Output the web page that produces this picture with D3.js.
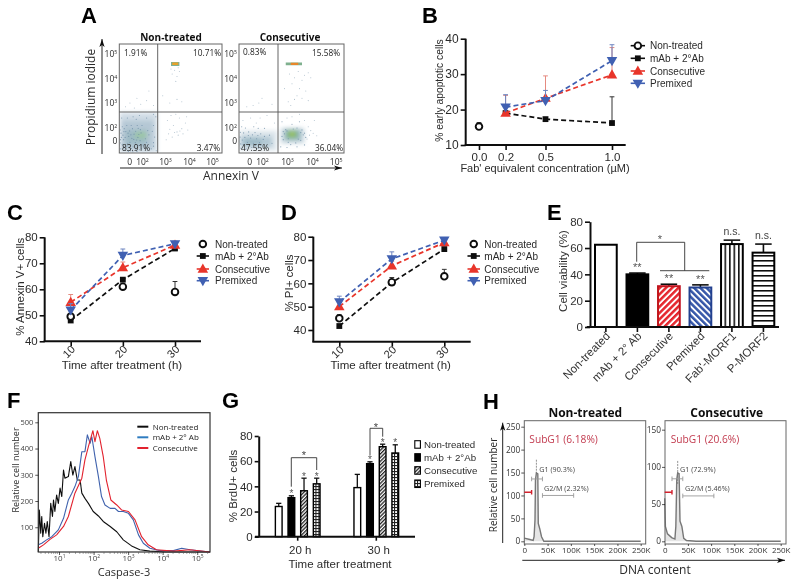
<!DOCTYPE html>
<html><head><meta charset="utf-8">
<script src="https://cdn.jsdelivr.net/npm/d3@7/dist/d3.min.js"></script>
<style>html,body{margin:0;padding:0;background:#fff}svg{display:block}</style>
</head><body><script>
// ---------- DATA ----------
const legendNames = ["Non-treated","mAb + 2°Ab","Consecutive","Premixed"];
// A flow cytometry: values in display decades (0, 2=10², 3=10³ ...)
const aTicks=[0,2,3,4,5];
const aPercentL=["1.91%","10.71%","83.91%","3.47%"];
const aPercentR=["0.83%","15.58%","47.55%","36.04%"];
// density patches [x0,x1,y0,y1,colour,opacity]
const aCloudL=[[-1.5,2.66,-1.8,2.62,"#c4d3de",.8],[-1.2,2.5,-1.2,2.3,"#a9c0cf",.7],[-.6,2.2,-.5,1.7,"#8fb2bb",.6],[.9,2.2,.4,1.4,"#9cc9a0",.8],[3.25,3.6,4.52,4.68,"#6fa98c",.9],[3.3,3.55,4.56,4.66,"#e7a12c",1]];
const aCloudR=[[-1.5,2.6,-1.5,1.6,"#d5e0e7",.8],[-1.5,2.4,-.9,.7,"#a6bfce",.75],[-.8,1.9,-.6,.4,"#8db0bd",.6],[2.75,3.7,-.4,2.0,"#c3d3dd",.8],[2.9,3.55,.1,1.8,"#8fb4b8",.85],[3.0,3.4,.5,1.55,"#78b574",1],[3.12,3.3,.85,1.3,"#b9cf4f",1],[2.95,3.6,4.55,4.66,"#7fb08e",1],[3.15,3.45,4.56,4.65,"#e8862c",1]];
// sparse dots [x,y]
const aDotsL=[[3.1,2.3],[3.2,1.8],[3.35,2.1],[3.5,1.4],[3.6,2.4],[3.15,1.1],[3.4,1.3],[3.7,1.9],[3.85,2.2],[3.95,1.7],[3.3,.6],[3.55,.9],[3.05,.2],[3.75,1.1],[3.25,2.5],[3.45,2.55],[3.9,2.45],[3.62,1.55],[.1,3.0],[1.2,3.2],[2.2,3.1],[2.5,2.9],[-.6,2.85],[.8,2.8],[1.8,2.95],[3.2,3.0],[3.5,3.15],[3.7,3.05],[2.9,3.3],[2.3,3.5],[3.3,4.2],[3.5,4.1],[3.4,4.35],[3.6,4.3],[3.25,4.4],[3.55,4.45],[3.45,3.9]];
const aDotsR=[[3.1,4.2],[3.3,4.05],[3.45,4.3],[3.6,3.95],[3.7,4.15],[3.85,4.25],[3.2,3.8],[3.5,3.6],[3.4,3.3],[3.6,3.2],[3.75,3.5],[3.05,3.05],[3.95,4.05],[3.3,3.15],[1.5,3.0],[2.0,3.2],[2.4,2.95],[.6,2.9],[-.4,2.85],[.2,2.4],[1.1,2.2],[1.7,2.4],[2.2,2.5],[2.5,2.2],[-1,2.3],[3.0,2.4],[3.2,2.45],[3.5,2.55],[3.7,2.3],[3.85,2.05],[3.95,1.6],[4.05,1.2],[3.9,.9],[3.8,.3],[4.2,.8],[4.1,2.3],[2.9,3.6],[3.15,2.9],[3.85,3.1]];
// speckle inside the dense clouds [x,y]
const aSpeckL=[[-1.2,2.4],[-.8,1.9],[-.3,2.4],[.3,2.1],[1.1,2.35],[1.6,2.5],[2.2,2.4],[2.5,2.1],[-1.3,1.2],[-1.4,.2],[-1.1,-.5],[-.7,-1.4],[.2,-1.5],[1.2,-1.6],[1.9,-1.2],[2.5,-.8],[2.55,.6],[2.45,1.5],[-1.0,.9],[-.4,-.9],[.6,-.9],[1.5,-.7],[2.2,-.2],[.5,1.9],[1.4,1.95],[-.2,1.2],[.4,.4],[1.0,1.5],[2.0,2.1],[-.9,.2],[-1.45,1.7],[2.6,2.45],[2.62,-1.5],[-1.1,2.05],[-.55,1.45],[-.1,.7],[.75,1.05],[1.35,.55],[1.85,1.25],[2.3,.95],[2.05,-.6],[.95,-.25],[-.25,-.35],[-.95,-1.05],[.35,-1.15],[1.05,-1.25],[1.7,.05],[2.4,-1.2],[-1.35,-1.2],[-1.25,.55],[-.65,.55],[.05,1.55],[.6,2.45],[1.25,2.1],[1.75,1.75],[2.25,1.6],[2.5,2.55],[-.4,2.1],[.1,-.2],[.7,.25],[1.5,1.0],[2.15,.35],[2.5,-.25],[-1.45,-.3],[-.85,1.45],[.25,.95],[1.15,.15],[1.6,-1.35],[.55,-1.65],[-.15,-1.6]];
const aSpeckR=[[-1.4,1.35],[-.9,1.25],[-.1,1.4],[.9,1.3],[1.8,1.1],[2.3,.9],[-1.3,-1.1],[-.5,-1.2],[.4,-1],[1.4,-1.1],[2.2,-.8],[-.6,2.0],[.7,2.05],[1.4,1.95],[2.1,1.95],[-1.2,2.05],[-1.45,.6],[-1.1,.15],[-.7,.55],[-.3,-.2],[.2,.45],[.65,-.35],[1.15,.35],[1.6,-.25],[2.05,.25],[2.4,-.35],[-.95,-.55],[-.15,.85],[.5,.95],[1.35,.85],[2.1,.7],[-1.35,-.45],[.95,-.7],[1.8,-.65],[2.75,-.9],[3.0,-1],[3.4,-.9],[3.7,-.6],[2.8,2.25],[2.85,.2],[2.9,1.1],[2.95,1.75],[3.05,-.2],[3.2,2.15],[3.4,2.0],[3.6,1.7],[3.7,1.2],[3.75,.55],[3.55,.1],[3.35,-.3],[3.15,-.55],[2.8,.7],[3.5,2.25],[3.65,.95],[3.05,.35],[3.45,.3],[3.55,1.3],[3.25,1.85],[3.0,1.55],[2.85,1.45]];
// B
const bConc=[0,.2,.5,1];
const bNon=[15.2,null,null,null], bNonTop=[16.3,null,null,null];
const bMab=[null,19,17.3,16.2], bMabTop=[null,null,null,23.6];
const bCon=[null,19,23.2,29.8], bConTop=[null,24,29.5,37.5];
const bPre=[null,20.7,22.5,33.8], bPreTop=[null,24.2,25.4,38.3];
// C
const tHours=[10,20,30];
const cNon=[49.5,61,59], cNonTop=[null,null,63];
const cMab=[48,63.7,75.7], cMabTop=[null,null,null];
const cCon=[55,68.3,77], cConTop=[58,70.5,78];
const cPre=[52,73,77.5], cPreTop=[54.5,75.5,78.5];
// D
const dNon=[45,60.5,63], dNonTop=[46.5,null,66];
const dMab=[41.7,60.3,74.7], dMabTop=[null,62.5,null];
const dCon=[50,67.5,77.5], dConTop=[52,69.5,79];
const dPre=[52,70.5,78.5], dPreTop=[54.5,73.5,79.5];
// E
const eCats=["Non-treated","mAb + 2° Ab","Consecutive","Premixed","Fab'-MORF1","P-MORF2"];
const eVals=[62.5,40,31,30,63,56.5];
const eTops=[null,41,32.5,32,66,63];
const eNotes=["","**","**","**","n.s.","n.s."];
// F (x = log10 intensity, y = count)
const fNames=["Non-treated","mAb + 2° Ab","Consecutive"];
const fBlackX=[.40,.43,.47,.50,.53,.58,.62,.66,.71,.76,.81,.84,.88,.93,.98,1.03,1.08,1.13,1.17,1.27,1.34,1.40,1.46,1.53,1.61,1.66,1.75,1.85,1.99,2.14,2.28,2.48,2.67,2.86,3.10,3.34,3.63,4.11,5.37];
const fBlackY=[6,166,77,141,64,115,77,122,64,191,141,204,160,223,191,249,217,318,287,293,350,299,331,280,280,230,210,191,160,143,122,103,83,52,29,14,9,6,6];
const fBlueX=[.40,.50,.64,.79,.98,1.13,1.27,1.37,1.46,1.56,1.66,1.75,1.82,1.90,1.95,2.04,2.14,2.23,2.33,2.48,2.62,2.72,2.86,3.01,3.15,3.30,3.44,3.63,3.92,4.31,4.55,4.79,5.37];
const fBlueY=[33,39,52,64,90,134,204,230,255,293,388,388,452,420,445,369,293,217,185,172,172,160,160,153,128,71,39,20,11,11,20,14,6];
const fRedX=[.40,.55,.74,.93,1.13,1.27,1.46,1.66,1.75,1.85,1.98,2.04,2.11,2.18,2.28,2.37,2.50,2.67,2.81,3.01,3.20,3.39,3.58,3.82,4.31,4.79,5.37];
const fRedY=[20,33,54,71,103,141,230,287,357,407,468,426,468,439,369,280,204,185,166,160,128,64,33,14,9,14,6];
const fTicksX=[1,2,3,4,5], fTicksY=[100,200,300,400,500];
// G
const gGroups=["20 h","30 h"];
const gVals20=[24,31,36.5,42], gTops20=[26.5,32.5,46.5,46.5];
const gVals30=[39,58,71.5,66.5], gTops30=[49.5,59.5,73.5,73];
// H
const hTicksX=[0,50,100,150,200,250];
const hLeftX=[0,12,19,21,23,24,26,29,30,33,37,42,250], hLeftY=[7,4,2,10,47,134,149,147,39,28,10,0,0];
const hRightX=[0,1.5,6,15,22,24,26,28,31,33,37,41,47,68,250], hRightY=[58,20,10,5,3,20,83,92,91,27,20,4,1,0,0];
const hLeftSpike=[26,178], hRightSpike=[28,108];

// ---------- SETUP ----------
const W=800,H=586;
const GP="'Liberation Sans',Arial,sans-serif", MY="'Open Sans',sans-serif";
const BLACK="#111", RED="#e8352b", BLUE="#3f60b2", INK="#2b2b2b";
const svg=d3.select("body").append("svg").attr("width",W).attr("height",H).attr("viewBox",`0 0 ${W} ${H}`);
const defs=svg.append("defs");
const flt=defs.append("filter").attr("id","soft").attr("filterUnits","userSpaceOnUse").attr("x",0).attr("y",0).attr("width",W).attr("height",H);
flt.append("feGaussianBlur").attr("stdDeviation",.35);
const blur=defs.append("filter").attr("id","cloud").attr("x","-30%").attr("y","-30%").attr("width","160%").attr("height","160%");
blur.append("feGaussianBlur").attr("stdDeviation",2.2);
const blur2=defs.append("filter").attr("id","spot").attr("x","-60%").attr("y","-200%").attr("width","220%").attr("height","500%");
blur2.append("feGaussianBlur").attr("stdDeviation",.7);
const root=svg.append("g").attr("filter","url(#soft)");

function hatch(id,size,rot,bg,draw){
  const p=defs.append("pattern").attr("id",id).attr("patternUnits","userSpaceOnUse").attr("width",size).attr("height",size).attr("patternTransform",`rotate(${rot})`);
  p.append("rect").attr("width",size).attr("height",size).attr("fill",bg);
  draw(p);
}
hatch("eRed",4.4,45,"#fff",p=>p.append("rect").attr("width",2.5).attr("height",4.4).attr("fill","#e5262d"));
hatch("eBlue",4.4,-45,"#fff",p=>p.append("rect").attr("width",2.5).attr("height",4.4).attr("fill","#3557a8"));
hatch("eVert",4.5,0,"#fff",p=>p.append("rect").attr("width",1.6).attr("height",4.5).attr("fill","#111"));
hatch("eHorz",5,0,"#fff",p=>p.append("rect").attr("width",5).attr("height",1.6).attr("fill","#111"));
hatch("gDiag",2.6,45,"#fff",p=>p.append("rect").attr("width",1.3).attr("height",2.6).attr("fill","#222"));
hatch("gGrid",3,0,"#fff",p=>{p.append("rect").attr("width",3).attr("height",1.1).attr("fill","#222");p.append("rect").attr("width",1.1).attr("height",3).attr("fill","#222");});

function txt(g,x,y,s,o={}){
  const t=g.append("text").attr("x",x).attr("y",y).text(s)
    .attr("font-family",o.font||GP).attr("font-size",o.size||11).attr("fill",o.fill||INK)
    .attr("text-anchor",o.anchor||"start");
  if(o.bold)t.attr("font-weight","bold");
  if(o.rot!=null)t.attr("transform",`rotate(${o.rot},${x},${y})`);
  return t;
}
function arrow(g,x1,y1,x2,y2){
  g.append("line").attr("x1",x1).attr("y1",y1).attr("x2",x2).attr("y2",y2).attr("stroke","#222").attr("stroke-width",1);
  const a=Math.atan2(y2-y1,x2-x1)*180/Math.PI;
  g.append("path").attr("d","M0,0L-8,-2.6L-6,0L-8,2.6Z").attr("fill","#111").attr("transform",`translate(${x2},${y2}) rotate(${a})`);
}
function styleAxis(a,sw,tsw,size,font,fill){
  a.select(".domain").attr("stroke",BLACK).attr("stroke-width",sw);
  a.selectAll(".tick line").attr("stroke",BLACK).attr("stroke-width",tsw);
  a.selectAll(".tick text").attr("font-size",size).attr("font-family",font||GP).attr("fill",fill||INK);
}
function powLabel(sel,size){
  sel.selectAll(".tick text").each(function(d){
    const t=d3.select(this).text("");
    if(d===0){t.text("0");return;}
    t.append("tspan").text("10");
    t.append("tspan").text(d).attr("font-size",size*.62).attr("dy",-size*.38);
  });
}
[["A",81,23],["B",422,23],["C",7,220],["D",281,220],["E",547,220],["F",7,408],["G",222,408],["H",483,409]]
  .forEach(d=>txt(root,d[1],d[2],d[0],{size:22,bold:true,fill:"#000"}));

// ---------- PANEL A ----------
function flow(name,left,right,xr,perc,clouds,dots,speck,titleX,pPos,vx){
  const g=root.append("g");
  const x=d3.scaleLinear().domain(aTicks).range(xr);
  const y=d3.scaleLinear().domain(aTicks).range([141,128,103,79,54]);
  const cid="clip"+name.replace(/\W/g,"");
  defs.append("clipPath").attr("id",cid).append("rect").attr("x",left).attr("y",44).attr("width",right-left).attr("height",109);
  const plot=g.append("g").attr("clip-path",`url(#${cid})`);
  const patch=(sel,rows)=>sel.selectAll("rect").data(rows).join("rect")
    .attr("x",d=>x(d[0])).attr("width",d=>x(d[1])-x(d[0])).attr("y",d=>y(d[3])).attr("height",d=>y(d[2])-y(d[3]))
    .attr("fill",d=>d[4]).attr("opacity",d=>d[5]);
  patch(plot.append("g").attr("filter","url(#cloud)"),clouds.filter(d=>d[2]<4));
  patch(plot.append("g").attr("filter","url(#spot)"),clouds.filter(d=>d[2]>=4));
  plot.selectAll("circle.d").data(dots).join("circle").attr("class","d").attr("cx",d=>x(d[0])).attr("cy",d=>y(d[1])).attr("r",.55).attr("fill","#b4c4d0");
  plot.selectAll("circle.s").data(speck).join("circle").attr("class","s").attr("cx",d=>x(d[0])).attr("cy",d=>y(d[1])).attr("r",.6).attr("fill","#6f8fa8").attr("opacity",.8);
  g.append("rect").attr("x",left).attr("y",44).attr("width",right-left).attr("height",109).attr("fill","none").attr("stroke","#666").attr("stroke-width",1);
  g.append("line").attr("x1",vx).attr("x2",vx).attr("y1",44).attr("y2",153).attr("stroke","#555").attr("stroke-width",.9);
  g.append("line").attr("x1",left).attr("x2",right).attr("y1",112).attr("y2",112).attr("stroke","#555").attr("stroke-width",.9);
  const ax=g.append("g").attr("transform","translate(0,153)").call(d3.axisBottom(x).tickValues(aTicks).tickSize(0).tickPadding(6));
  ax.select(".domain").remove(); ax.selectAll(".tick line").remove();
  ax.selectAll(".tick text").attr("font-size",8.5).attr("font-family",MY).attr("fill",INK); powLabel(ax,8.5);
  const ay=g.append("g").attr("transform",`translate(${left},0)`).call(d3.axisLeft(y).tickValues(aTicks).tickSize(0).tickPadding(2));
  ay.select(".domain").remove(); ay.selectAll(".tick line").remove();
  ay.selectAll(".tick text").attr("font-size",8.5).attr("font-family",MY).attr("fill",INK); powLabel(ay,8.5);
  txt(g,titleX,41,name,{font:MY,size:10,bold:true,fill:"#111",anchor:"middle"});
  perc.forEach((p,i)=>txt(g,pPos[i][0],pPos[i][1],p,{font:MY,size:8.3,anchor:pPos[i][2],fill:"#222"}));
}
flow("Non-treated",119.3,222,[129.3,142,165,189,212],aPercentL,aCloudL,aDotsL,aSpeckL,171,[[124,56,"start"],[221,56,"end"],[122,151,"start"],[220,151,"end"]],157.7);
flow("Consecutive",239,344,[249.3,262,287,312,335.7],aPercentR,aCloudR,aDotsR,aSpeckR,290,[[243,55,"start"],[340,56,"end"],[241,151,"start"],[343,151,"end"]],278);
arrow(root,102,154,102,39); arrow(root,120,168,342,168);
txt(root,95,97,"Propidium iodide",{font:MY,size:12,anchor:"middle",rot:-90});
txt(root,231,180,"Annexin V",{font:MY,size:12,anchor:"middle"});

// ---------- LINE PANELS ----------
const sTri=d3.symbol(d3.symbolTriangle).size(48)(), sSq=d3.symbol(d3.symbolSquare).size(34)();
function marker(g,kind,cx,cy){
  if(kind==="non") g.append("circle").attr("cx",cx).attr("cy",cy).attr("r",3.3).attr("fill","#fff").attr("stroke",BLACK).attr("stroke-width",1.9);
  if(kind==="mab") g.append("path").attr("d",sSq).attr("fill",BLACK).attr("transform",`translate(${cx},${cy})`);
  if(kind==="con") g.append("path").attr("d",sTri).attr("fill",RED).attr("transform",`translate(${cx},${cy+.6})`);
  if(kind==="pre") g.append("path").attr("d",sTri).attr("fill",BLUE).attr("transform",`translate(${cx},${cy-.6}) rotate(180)`);
}
const kinds=[{k:"non",c:BLACK,tc:"#333"},{k:"mab",c:BLACK,tc:"#333"},{k:"con",c:RED,tc:"#e58a80"},{k:"pre",c:BLUE,tc:"#6c84c0"}];
function drawSeries(g,x,y,xs,table){
  [1,0,2,3].forEach(i=>{
    const [vals,tops]=table[i], K=kinds[i];
    const pts=xs.map((v,j)=>({x:v,y:vals[j],t:tops[j]}));
    if(i>0){
      const ln=d3.line().defined(d=>d.y!=null).x(d=>x(d.x)).y(d=>y(d.y));
      g.append("path").attr("d",ln(pts)).attr("fill","none").attr("stroke",K.c).attr("stroke-width",1.7).attr("stroke-dasharray","5 3");
    }
    pts.filter(d=>d.y!=null&&d.t!=null).forEach(d=>{
      g.append("line").attr("x1",x(d.x)).attr("x2",x(d.x)).attr("y1",y(d.y)).attr("y2",y(d.t)).attr("stroke",K.tc).attr("stroke-width",1);
      g.append("line").attr("x1",x(d.x)-2.4).attr("x2",x(d.x)+2.4).attr("y1",y(d.t)).attr("y2",y(d.t)).attr("stroke",K.tc).attr("stroke-width",1);
    });
    pts.filter(d=>d.y!=null).forEach(d=>marker(g,K.k,x(d.x),y(d.y)));
  });
}
function legend(g,x0,x1,tx,rows,size,noLine){
  legendNames.forEach((n,i)=>{
    const K=kinds[i], cy=rows[i], mid=(x0+x1)/2;
    if(!(noLine&&i===0)) g.append("line").attr("x1",x0).attr("x2",x1).attr("y1",cy).attr("y2",cy).attr("stroke",K.c).attr("stroke-width",1.6);
    marker(g,K.k,mid,cy);
    txt(g,tx,cy+3.7,n,{size});
  });
}
function linePanel(o){
  const g=root.append("g");
  const y=d3.scaleLinear().domain(o.yd).range(o.yr);
  const x=d3.scaleLinear().domain(o.xd).range(o.xr);
  const ay=g.append("g").attr("transform",`translate(${o.axL},0)`).call(d3.axisLeft(y).tickValues(o.yt).tickSize(5).tickPadding(2).tickSizeOuter(0));
  styleAxis(ay,2,1.6,o.ytSize||12);
  const xa=d3.axisBottom(d3.scaleLinear().domain([o.axL,o.axR]).range([o.axL,o.axR])).tickSizeOuter(0).tickSize(5)
    .tickValues(o.xt.map(x)).tickFormat((d,i)=>o.xl(o.xt[i]));
  const ax=g.append("g").attr("transform",`translate(0,${o.axB})`).call(xa);
  styleAxis(ax,2,1.6,o.xtSize||11);
  ax.select(".domain").attr("d",`M${o.axL-1},0H${o.axR}`);
  ay.select(".domain").attr("d",`M0,${o.axB}V${y(o.yt[o.yt.length-1])}`);
  if(o.rotX) ax.selectAll(".tick text").attr("text-anchor","end").attr("dy",".35em").attr("x",2).attr("y",6).attr("transform","rotate(-45,2,6)");
  drawSeries(g,x,y,o.xs,o.table);
  return g;
}
// B
const gB=linePanel({yd:[10,40],yr:[145,38.7],yt:[10,20,30,40],xd:[0,1],xr:[479,612],xt:bConc,xs:bConc,xl:d=>d.toFixed(1),axL:465.7,axR:625.7,axB:145,
  table:[[bNon,bNonTop],[bMab,bMabTop],[bCon,bConTop],[bPre,bPreTop]],ytSize:12,xtSize:11.5});
legend(gB,630.7,645,650,[45.7,58.3,71,83.3],10);
txt(gB,545,172,"Fab' equivalent concentration (µM)",{size:11,anchor:"middle"});
txt(gB,443,90.5,"% early apoptotic cells",{size:10.3,anchor:"middle",rot:-90});
// C
const gC=linePanel({yd:[40,80],yr:[341.3,237.3],yt:[40,50,60,70,80],xd:[10,30],xr:[70.7,175],xt:tHours,xs:tHours,xl:d=>d,axL:44.7,axR:201,axB:341.3,rotX:true,
  table:[[cNon,cNonTop],[cMab,cMabTop],[cCon,cConTop],[cPre,cPreTop]],ytSize:11.5,xtSize:11});
legend(gC,196.7,209,215,[244,256,269,280.7],10,true);
txt(gC,122,369,"Time after treatment (h)",{size:11.5,anchor:"middle"});
txt(gC,24,286.7,"% Annexin V+ cells",{size:11.5,anchor:"middle",rot:-90});
// D
const gD=linePanel({yd:[40,80],yr:[330,236.7],yt:[40,50,60,70,80],xd:[10,30],xr:[339.3,444.3],xt:tHours,xs:tHours,xl:d=>d,axL:313.3,axR:470.7,axB:341.7,rotX:true,
  table:[[dNon,dNonTop],[dMab,dMabTop],[dCon,dConTop],[dPre,dPreTop]],ytSize:11.5,xtSize:11});
legend(gD,467.5,480,484.3,[244,256,269,280.7],10,true);
txt(gD,390.7,369,"Time after treatment (h)",{size:11.5,anchor:"middle"});
txt(gD,293,283,"% PI+ cells",{size:11.5,anchor:"middle",rot:-90});

// ---------- PANEL E ----------
{
  const g=root.append("g");
  const y=d3.scaleLinear().domain([0,80]).range([327,221.7]);
  const x=d3.scaleBand().domain(eCats).range([595,774.3]).paddingInner(.31).paddingOuter(0);
  const fills=["#fff","#000","url(#eRed)","url(#eBlue)","url(#eVert)","url(#eHorz)"];
  const strokes=["#000","#000","#c1141f","#20408f","#000","#000"];
  g.selectAll("line.err").data(eCats).join("line").attr("class","err").filter((d,i)=>eTops[i]!=null)
    .attr("x1",d=>x(d)+x.bandwidth()/2).attr("x2",d=>x(d)+x.bandwidth()/2)
    .attr("y1",d=>y(eVals[eCats.indexOf(d)])).attr("y2",d=>y(eTops[eCats.indexOf(d)])).attr("stroke","#111").attr("stroke-width",1.6);
  g.selectAll("line.cap").data(eCats).join("line").attr("class","cap").filter((d,i)=>eTops[i]!=null)
    .attr("x1",d=>x(d)+x.bandwidth()*.12).attr("x2",d=>x(d)+x.bandwidth()*.88)
    .attr("y1",d=>y(eTops[eCats.indexOf(d)])).attr("y2",d=>y(eTops[eCats.indexOf(d)])).attr("stroke","#111").attr("stroke-width",1.6);
  g.selectAll("rect.bar").data(eCats).join("rect").attr("class","bar")
    .attr("x",d=>x(d)).attr("width",x.bandwidth()).attr("y",d=>y(eVals[eCats.indexOf(d)])).attr("height",d=>y(0)-y(eVals[eCats.indexOf(d)]))
    .attr("fill",(d,i)=>fills[i]).attr("stroke",(d,i)=>strokes[i]).attr("stroke-width",2);
  const ay=g.append("g").attr("transform","translate(590,0)").call(d3.axisLeft(y).tickValues([0,20,40,60,80]).tickSize(5).tickPadding(2).tickSizeOuter(0));
  styleAxis(ay,2,1.6,11.5,GP,"#333");
  const ax=g.append("g").attr("transform","translate(0,327)").call(d3.axisBottom(x).tickSize(5).tickSizeOuter(0));
  styleAxis(ax,2,1.6,11.5,GP,"#333");
  ax.select(".domain").attr("d","M586.7,0H779");
  ax.selectAll(".tick text").attr("text-anchor","end").attr("dy",".35em").attr("x",2).attr("y",7).attr("transform","rotate(-45,2,7)");
  eNotes.forEach((s,i)=>{
    if(!s)return;
    const cx=x(eCats[i])+x.bandwidth()/2;
    if(s==="n.s.") txt(g,cx,y(eTops[i])-5,s,{size:10.5,anchor:"middle",fill:"#444"});
    else txt(g,cx,y(eTops[i])-2,s,{size:11,anchor:"middle",fill:"#555"});
  });
  const b=[[636.7,261.7],[636.7,242.3],[684.7,242.3],[684.7,270.7]];
  g.append("path").attr("d",d3.line()(b)).attr("fill","none").attr("stroke","#333").attr("stroke-width",.9);
  g.append("line").attr("x1",660).attr("x2",709.3).attr("y1",270.7).attr("y2",270.7).attr("stroke","#333").attr("stroke-width",.9);
  txt(g,660,243,"*",{size:11,anchor:"middle",fill:"#555"});
  txt(g,567,271,"Cell viability (%)",{size:11.5,anchor:"middle",rot:-90,fill:"#333"});
}

// ---------- PANEL F ----------
{
  const g=root.append("g");
  const x=d3.scaleLinear().domain([.4,5.37]).range([38.3,210]);
  const y=d3.scaleLinear().domain([0,500]).range([553.5,422.3]);
  const line=d3.line().x(d=>x(d[0])).y(d=>y(d[1]));
  const f=[[fBlackX,fBlackY,"#111"],[fBlueX,fBlueY,"#3f62ad"],[fRedX,fRedY,"#e2222e"]];
  f.forEach(s=>g.append("path").attr("d",line(d3.zip(s[0],s[1]))).attr("fill","none").attr("stroke",s[2]).attr("stroke-width",1.1).attr("stroke-linejoin","round"));
  g.append("rect").attr("x",38.3).attr("y",412.7).attr("width",171.7).attr("height",139.3).attr("fill","none").attr("stroke","#333").attr("stroke-width",1.2);
  const ax=g.append("g").attr("transform","translate(0,552)").call(d3.axisBottom(x).tickValues(fTicksX).tickSize(3).tickPadding(0));
  ax.select(".domain").remove(); styleAxis(ax,0,.7,8,MY,"#444"); powLabel(ax,8);
  const minor=[];fTicksX.concat([0]).forEach(dc=>[2,3,4,5,6,7,8,9].forEach(m=>{const v=dc+Math.log10(m);if(v>.4&&v<5.37)minor.push(v);}));
  g.selectAll("line.m").data(minor).join("line").attr("class","m").attr("x1",x).attr("x2",x).attr("y1",552).attr("y2",554).attr("stroke","#555").attr("stroke-width",.5);
  const ay=g.append("g").attr("transform","translate(38.3,0)").call(d3.axisLeft(y).tickValues(fTicksY).tickSize(3).tickPadding(2));
  ay.select(".domain").remove(); styleAxis(ay,0,.7,7.5,MY,"#444");
  const cols=["#111","#2e7cc0","#e2222e"];
  fNames.forEach((n,i)=>{
    const cy=[426.7,437.3,448][i];
    g.append("line").attr("x1",137.3).attr("x2",148.3).attr("y1",cy).attr("y2",cy).attr("stroke",cols[i]).attr("stroke-width",2);
    txt(g,152.7,cy+3,n,{font:MY,size:8,fill:"#222"});
  });
  txt(g,124,576,"Caspase-3",{font:MY,size:11,anchor:"middle"});
  txt(g,19,470,"Relative cell number",{font:MY,size:9,anchor:"middle",rot:-90});
}

// ---------- PANEL G ----------
{
  const g=root.append("g");
  const y=d3.scaleLinear().domain([0,80]).range([536.7,436]);
  const x0=d3.scaleBand().domain(gGroups).range([258.4,415.6]).paddingInner(0);
  const x1=d3.scaleBand().domain(legendNames).range([16.97,61.63]).paddingInner(.47).paddingOuter(0);
  const fills=["#fff","#000","url(#gDiag)","url(#gGrid)"];
  [[gVals20,gTops20],[gVals30,gTops30]].forEach((s,gi)=>{
    const gg=g.append("g").attr("transform",`translate(${x0(gGroups[gi])},0)`);
    legendNames.forEach((n,i)=>{
      const cx=x1(n)+x1.bandwidth()/2;
      gg.append("line").attr("x1",cx).attr("x2",cx).attr("y1",y(s[0][i])).attr("y2",y(s[1][i])).attr("stroke","#111").attr("stroke-width",1.3);
      gg.append("line").attr("x1",cx-2.6).attr("x2",cx+2.6).attr("y1",y(s[1][i])).attr("y2",y(s[1][i])).attr("stroke","#111").attr("stroke-width",1.3);
      gg.append("rect").attr("x",x1(n)).attr("width",x1.bandwidth()).attr("y",y(s[0][i])).attr("height",y(0)-y(s[0][i]))
        .attr("fill",fills[i]).attr("stroke","#000").attr("stroke-width",1.4);
      if(i>0) txt(gg,cx,y(s[1][i])+1.5,"*",{size:10,anchor:"middle",fill:"#555"});
    });
  });
  const ay=g.append("g").attr("transform","translate(258.7,0)").call(d3.axisLeft(y).tickValues([0,20,40,60,80]).tickSize(4).tickPadding(2).tickSizeOuter(0));
  styleAxis(ay,2,1.6,11.5);
  const ax=g.append("g").attr("transform","translate(0,536.7)").call(d3.axisBottom(x0).tickSize(4).tickSizeOuter(0).tickPadding(5));
  styleAxis(ax,2,1.6,11.5);
  ax.select(".domain").attr("d","M255,0H415");
  ax.selectAll(".tick text").attr("x",2.5);
  [[[291.3,486.7],[291.3,457.7],[316.7,457.7],[316.7,470]],[[370,455],[370,428.3],[382.7,428.3],[382.7,436.7]]]
    .forEach(b=>g.append("path").attr("d",d3.line()(b)).attr("fill","none").attr("stroke","#333").attr("stroke-width",.9));
  txt(g,304,459,"*",{size:11,anchor:"middle",fill:"#444"});
  txt(g,376,431,"*",{size:11,anchor:"middle",fill:"#444"});
  legendNames.forEach((n,i)=>{
    const cy=[444.7,457.7,470.7,484][i];
    g.append("rect").attr("x",414.8).attr("y",cy-4).attr("width",5.6).attr("height",7.5).attr("fill",fills[i]).attr("stroke","#000").attr("stroke-width",1.1);
    txt(g,424,cy+3.3,n,{size:9.7});
  });
  txt(g,340,567.7,"Time after treatment",{size:11.5,anchor:"middle"});
  txt(g,237,486,"% BrdU+ cells",{size:11.5,anchor:"middle",rot:-90});
}

// ---------- PANEL H ----------
function cycle(left,right,xr,yTicks,yr,xs,ys,spike,title,titleX,sub,g1,g2,tx){
  const g=root.append("g");
  const x=d3.scaleLinear().domain([0,250]).range(xr);
  const y=d3.scaleLinear().domain([0,yTicks[yTicks.length-1]]).range(yr);
  const pts=d3.zip(xs,ys);
  g.append("path").attr("d",d3.area().x(d=>x(d[0])).y0(y(0)).y1(d=>y(d[1]))(pts)).attr("fill","#ccc").attr("fill-opacity",.5);
  g.append("path").attr("d",d3.line().x(d=>x(d[0])).y(d=>y(d[1]))(pts)).attr("fill","none").attr("stroke","#777").attr("stroke-width",1.4);
  g.append("line").attr("x1",x(spike[0])).attr("x2",x(spike[0])).attr("y1",y(spike[1])).attr("y2",y(spike[1]-32)).attr("stroke","#777").attr("stroke-width",.8).attr("stroke-dasharray","2 1");
  g.append("rect").attr("x",left).attr("y",420.7).attr("width",right-left).attr("height",123.3).attr("fill","none").attr("stroke","#666").attr("stroke-width",1);
  const ax=g.append("g").attr("transform","translate(0,544)").call(d3.axisBottom(x).tickValues(hTicksX).tickFormat(d=>d?d+"K":"0").tickSize(2).tickPadding(1));
  ax.select(".domain").remove(); styleAxis(ax,0,.7,8,MY,"#333");
  const ay=g.append("g").attr("transform",`translate(${left},0)`).call(d3.axisLeft(y).tickValues(yTicks).tickSize(3).tickPadding(1));
  ay.select(".domain").remove(); styleAxis(ay,0,.7,8.3,MY,"#333");
  const gate=(a,b,c,col,w)=>{
    g.append("path").attr("d",`M${x(a)},${y(c)}H${x(b)}M${x(b)},${y(c)-2.3}V${y(c)+2.3}`+(col==="#999"?`M${x(a)},${y(c)-2.3}V${y(c)+2.3}`:""))
      .attr("fill","none").attr("stroke",col).attr("stroke-width",w);
  };
  gate(15.7,39,g1[2],"#999",.9); gate(39,106,g2[2],"#999",.9);
  gate(0,15.7,sub[2],"#d2202e",1.4);
  txt(g,titleX,416.7,title,{font:MY,size:12,bold:true,fill:"#111",anchor:"middle"});
  txt(g,tx[0],443,sub[0],{font:MY,size:10.2,fill:"#c23a4e"});
  txt(g,tx[1],472,g1[0],{font:MY,size:7.2,fill:"#444"});
  txt(g,tx[2],491,g2[0],{font:MY,size:7.2,fill:"#444"});
}
cycle(524.3,645.7,[524.3,640.7],[0,50,100,150,200,250],[541.3,426.7],hLeftX,hLeftY,hLeftSpike,"Non-treated",585.3,["SubG1 (6.18%)",0,107],["G1 (90.3%)",0,136],["G2/M (2.32%)",0,100],[529.3,539.3,544]);
cycle(665,786,[664.7,780.7],[0,50,100,150],[541.3,429.7],hRightX,hRightY,hRightSpike,"Consecutive",726.7,["SubG1 (20.6%)",0,66],["G1 (72.9%)",0,84],["G2/M (5.46%)",0,61],[670.7,680,685]);
arrow(root,502.7,543,502.7,422.7); arrow(root,522.3,560.3,785,560.3);
txt(root,497,485,"Relative cell number",{font:MY,size:10,anchor:"middle",rot:-90});
txt(root,655,574,"DNA content",{font:MY,size:12,anchor:"middle"});
</script></body></html>
